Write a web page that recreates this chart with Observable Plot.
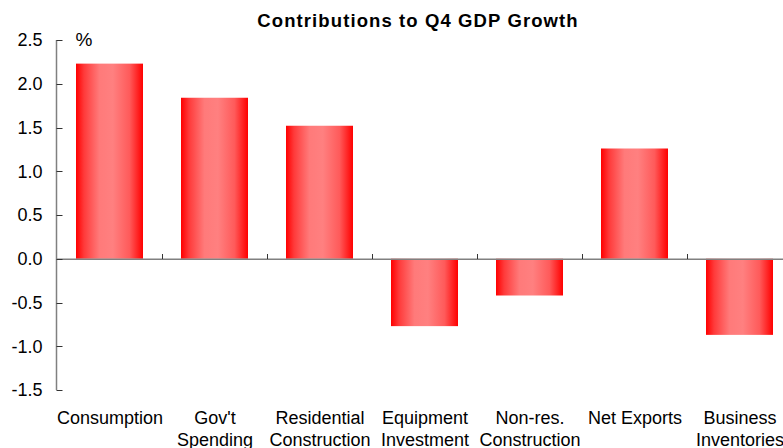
<!DOCTYPE html>
<html>
<head>
<meta charset="utf-8">
<script src="https://cdn.jsdelivr.net/npm/d3@7"></script>
<script src="https://cdn.jsdelivr.net/npm/@observablehq/plot@0.6"></script>
<style>
  html, body { margin: 0; padding: 0; background: #fff; overflow: hidden; }
  svg { display: block; }
</style>
</head>
<body>
<div id="chart"></div>
<script>
const titleText = "Contributions to Q4 GDP Growth";
const unitLabel = "%";
const categories = ["Consumption", "Gov't\nSpending", "Residential\nConstruction", "Equipment\nInvestment", "Non-res.\nConstruction", "Net Exports", "Business\nInventories"];
const values = [2.23, 1.84, 1.52, -0.77, -0.42, 1.26, -0.87];
const yTicks = [-1.5, -1.0, -0.5, 0.0, 0.5, 1.0, 1.5, 2.0, 2.5];

const data = categories.map((c, i) => ({category: c, value: values[i]}));
const font = "Liberation Sans, Arial, sans-serif";
const ns = "http://www.w3.org/2000/svg";

function line(g, x1, y1, x2, y2, stroke, w) {
  const l = document.createElementNS(ns, "line");
  l.setAttribute("x1", x1); l.setAttribute("x2", x2);
  l.setAttribute("y1", y1); l.setAttribute("y2", y2);
  l.setAttribute("stroke", stroke);
  l.setAttribute("stroke-width", w);
  g.appendChild(l);
}

const chart = Plot.plot({
  width: 783,
  height: 448,
  marginTop: 40,
  marginBottom: 58,
  marginLeft: 56,
  marginRight: -9,
  style: {fontFamily: font, fontSize: "18px", color: "#000", background: "#fff"},
  x: {domain: categories, paddingInner: 0.366, paddingOuter: 0.183, axis: null},
  y: {domain: [-1.5, 2.5], ticks: yTicks, axis: null},
  marks: [
    () => {
      const defs = document.createElementNS(ns, "defs");
      defs.innerHTML = `<linearGradient id="barGrad" x1="0" y1="0" x2="1" y2="0">
        <stop offset="0" stop-color="#ff0000"/>
        <stop offset="0.12" stop-color="#ff3a3a"/>
        <stop offset="0.35" stop-color="#ff7a7a"/>
        <stop offset="0.55" stop-color="#ff8080"/>
        <stop offset="0.8" stop-color="#ff5a5a"/>
        <stop offset="1" stop-color="#ff0000"/>
      </linearGradient>`;
      return defs;
    },
    Plot.barY(data, {x: "category", y: "value", fill: "url(#barGrad)"}),
    Plot.ruleY([0], {stroke: "#808080", strokeWidth: 1.3}),
    // y axis line + inward ticks
    Plot.tickY(yTicks, {y: d => d, render: (index, scales, values, dims) => {
      const g = document.createElementNS(ns, "g");
      const x0 = dims.marginLeft + 0.5;
      line(g, x0, scales.y(2.5), x0, scales.y(-1.5), "#808080", 1.5);
      for (const i of index) {
        const y = Math.round(scales.y(yTicks[i])) + 0.5;
        line(g, x0, y, x0 + 6, y, "#333", 1);
      }
      return g;
    }}),
    Plot.text(yTicks, {y: d => d, text: d => d.toFixed(1), frameAnchor: "left", textAnchor: "end", dx: -14, fill: "#000"}),
    // category boundary ticks on the zero line (upward)
    Plot.tickX(categories.slice(1), {
      x: d => d,
      render: (index, scales, values, dims) => {
        const g = document.createElementNS(ns, "g");
        const y0 = Math.round(scales.y(0));
        const step = scales.x.step();
        for (const i of index) {
          const c = categories[i + 1];
          const x = Math.round(scales.x(c) - (step - scales.x.bandwidth()) / 2) + 0.5;
          line(g, x, y0 - 5, x, y0, "#333", 1);
        }
        return g;
      }
    }),
    // x category labels
    Plot.text(data, {x: "category", text: "category", frameAnchor: "bottom", lineAnchor: "top", dy: 18, lineHeight: 1.22, fill: "#000"}),
    // unit label
    Plot.text([unitLabel], {frameAnchor: "top-left", dx: 19, dy: -8, lineAnchor: "top", textAnchor: "start", fill: "#000", fontSize: 19}),
    // title
    Plot.text([titleText], {frameAnchor: "top", dx: -6.5, dy: -19, lineAnchor: "middle", fontWeight: "bold", fontSize: 18.5, fill: "#000"})
  ]
});
chart.querySelectorAll("text").forEach(t => { if (t.textContent === titleText) t.style.letterSpacing = "1.1px"; });
document.getElementById("chart").appendChild(chart);
</script>
</body>
</html>
